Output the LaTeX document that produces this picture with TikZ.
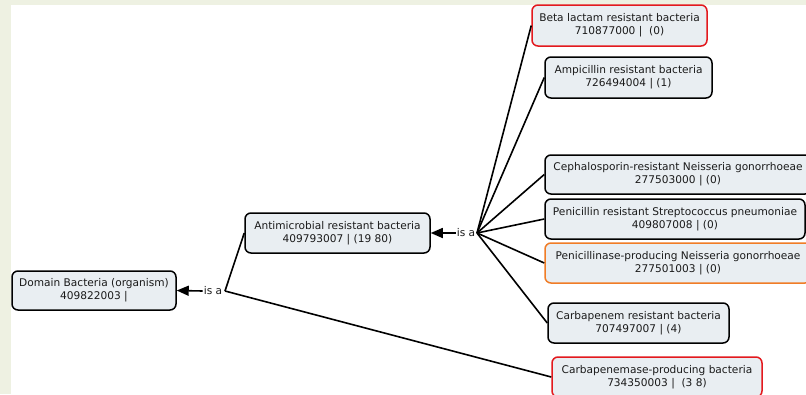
\documentclass[tikz,border=0pt]{standalone}
\usepackage{fontspec}
\setmainfont{DejaVu Sans}
\usetikzlibrary{arrows.meta}
\definecolor{bgside}{HTML}{EEF1E2}
\definecolor{boxfill}{HTML}{E9EEF2}
\definecolor{redb}{HTML}{E3191E}
\definecolor{orangeb}{HTML}{F07C26}
\definecolor{txt}{HTML}{1A1A1A}
\begin{document}
\begin{tikzpicture}[x=1pt,y=-1pt, font=\fontsize{10.6}{13}\selectfont, text=txt,
  concept/.style={draw=black, line width=1.5pt, fill=boxfill, rounded corners=6pt, align=center, inner sep=0pt},
  redc/.style={concept, draw=redb},
  orc/.style={concept, draw=orangeb},
  link/.style={line width=1.6pt},
  isa/.style={inner sep=1pt},
  arr/.style={line width=1.6pt, -{Triangle[length=12pt,width=10pt]}}]
\useasboundingbox (0,0) rectangle (806,394);
\clip (0,0) rectangle (806,394);
\fill[bgside] (0,0) rectangle (806,394);
\fill[white] (11,5) rectangle (806,394);

\node[concept, minimum width=164pt, minimum height=39pt] (dom) at (94,290.5) {Domain Bacteria (organism)\\409822003 |};
\node[concept, minimum width=185pt, minimum height=40pt] (anti) at (337.5,233) {Antimicrobial resistant bacteria\\409793007 | (19 80)};
\node[redc, minimum width=175pt, minimum height=41pt] (beta) at (619.5,25.5) {Beta lactam resistant bacteria\\710877000 |\ \ (0)};
\node[concept, minimum width=167pt, minimum height=41pt] (amp) at (628.5,77.5) {Ampicillin resistant bacteria\\726494004 | (1)};
\node[concept, minimum width=266pt, minimum height=39pt] (ceph) at (678,174.5) {Cephalosporin-resistant Neisseria gonorrhoeae\\277503000 | (0)};
\node[concept, minimum width=260pt, minimum height=40pt] (pen) at (675,219) {Penicillin resistant Streptococcus pneumoniae\\409807008 | (0)};
\node[orc, minimum width=266pt, minimum height=40pt] (penase) at (678,263) {Penicillinase-producing Neisseria gonorrhoeae\\277501003 | (0)};
\node[concept, minimum width=181pt, minimum height=40pt] (carb) at (638.5,323) {Carbapenem resistant bacteria\\707497007 | (4)};
\node[redc, minimum width=210pt, minimum height=40pt] (carbase) at (657,377) {Carbapenemase-producing bacteria\\734350003 |\ \ (3 8)};

\node[isa] (isa1) at (213,291) {is a};
\coordinate (j1) at (225,291);
\node[isa] (isa2) at (466,233) {is a};
\coordinate (j2) at (477,233);

\draw[arr] (isa1.west) -- (dom.east);
\draw[link] (j1) -- (anti.west);
\draw[link] (j1) -- (carbase.west);

\draw[arr] (isa2.west) -- (anti.east);
\foreach \t in {beta,amp,ceph,pen,penase,carb}
  \draw[link] (j2) -- (\t.west);
\end{tikzpicture}
\end{document}
